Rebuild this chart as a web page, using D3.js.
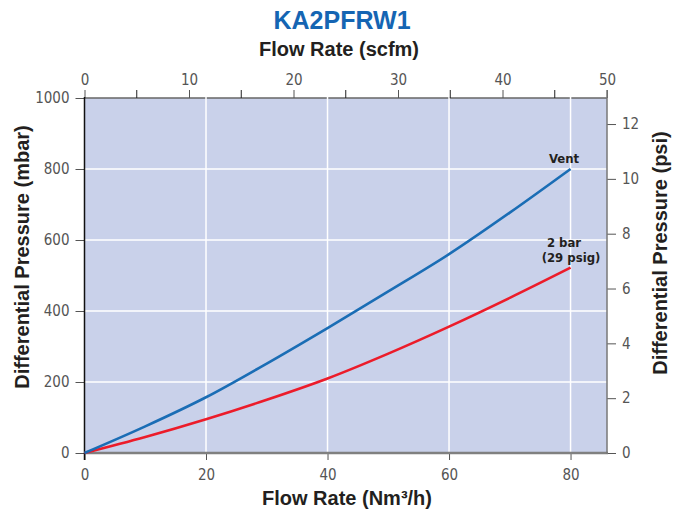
<!DOCTYPE html>
<html>
<head>
<meta charset="utf-8">
<script src="https://cdn.jsdelivr.net/npm/d3@7"></script>
<style>
  body { margin: 0; background: #fff; }
  svg { display: block; }
  .tick text { font-family: "DejaVu Sans Condensed", "Liberation Sans Narrow", "Liberation Sans", Arial, sans-serif; font-size: 15px; fill: #555; }
  .tick line { stroke: #555; }
  .domain { display: none; }
</style>
</head>
<body>
<svg></svg>
<script>
const flowNm3h = [0, 10, 20, 30, 40, 50, 60, 70, 80];
const ventMbar = [0, 75, 157, 252, 352, 455, 560, 677, 800];
const twoBarMbar = [0, 45, 95, 150, 210, 280, 356, 437, 522];

const bottomTicks = [0, 20, 40, 60, 80];
const topTicks = [0, 10, 20, 30, 40, 50];
const topMinorTicks = [5, 15, 25, 35, 45];
const leftTicks = [0, 200, 400, 600, 800, 1000];
const rightTicks = [0, 2, 4, 6, 8, 10, 12];

const width = 684, height = 515;
const plot = { left: 84.5, right: 607, top: 98, bottom: 453 };

const svg = d3.select("svg")
  .attr("width", width)
  .attr("height", height);

const x = d3.scaleLinear().domain([0, 86]).range([plot.left, plot.right]);
const xTop = d3.scaleLinear().domain([0, 50]).range([plot.left, plot.right]);
const y = d3.scaleLinear().domain([0, 1000]).range([plot.bottom, plot.top]);
const yRight = d3.scaleLinear().domain([0, 12.95]).range([plot.bottom, plot.top]);

// background
svg.append("rect")
  .attr("x", plot.left)
  .attr("y", plot.top)
  .attr("width", plot.right - plot.left)
  .attr("height", plot.bottom - plot.top)
  .attr("fill", "#c9d1ea");

// top axis line (drawn before grid so the grid cuts it)
svg.append("line")
  .attr("x1", plot.left).attr("x2", plot.right)
  .attr("y1", plot.top).attr("y2", plot.top)
  .attr("stroke", "#666").attr("stroke-width", 1.5);

// grid
svg.append("g").selectAll("line")
  .data(bottomTicks.slice(1))
  .enter().append("line")
  .attr("x1", d => x(d)).attr("x2", d => x(d))
  .attr("y1", plot.top - 1).attr("y2", plot.bottom)
  .attr("stroke", "#fff").attr("stroke-width", 1.5);

svg.append("g").selectAll("line")
  .data(leftTicks.slice(1, -1))
  .enter().append("line")
  .attr("x1", plot.left).attr("x2", plot.right)
  .attr("y1", d => y(d)).attr("y2", d => y(d))
  .attr("stroke", "#fff").attr("stroke-width", 1.5);

// axes
svg.append("g")
  .attr("transform", `translate(0,${plot.bottom})`)
  .call(d3.axisBottom(x).tickValues(bottomTicks).tickSize(7).tickSizeOuter(0).tickPadding(9))
  .selectAll(".tick line").attr("stroke", "#222");

const topAxis = svg.append("g")
  .attr("transform", `translate(0,${plot.top})`)
  .call(d3.axisTop(xTop).tickValues(topTicks).tickSize(8).tickSizeOuter(0).tickPadding(5));
topAxis.selectAll(".tick line").attr("stroke", "#222");

svg.append("g").selectAll("line")
  .data(topMinorTicks)
  .enter().append("line")
  .attr("x1", d => xTop(d)).attr("x2", d => xTop(d))
  .attr("y1", plot.top).attr("y2", plot.top - 8)
  .attr("stroke", "#222");

svg.append("g")
  .attr("transform", `translate(${plot.left},0)`)
  .call(d3.axisLeft(y).tickValues(leftTicks).tickFormat(d3.format("d")).tickSize(9).tickSizeOuter(0).tickPadding(6));

svg.append("g")
  .attr("transform", `translate(${plot.right},0)`)
  .call(d3.axisRight(yRight).tickValues(rightTicks).tickSize(9).tickSizeOuter(0).tickPadding(6));

// axis lines
svg.append("line")
  .attr("x1", plot.left).attr("x2", plot.right + 1)
  .attr("y1", plot.bottom).attr("y2", plot.bottom)
  .attr("stroke", "#808080").attr("stroke-width", 2.5);
svg.append("line")
  .attr("x1", plot.left).attr("x2", plot.left)
  .attr("y1", plot.top - 1).attr("y2", plot.bottom + 7)
  .attr("stroke", "#111").attr("stroke-width", 1.5);
svg.append("line")
  .attr("x1", plot.right).attr("x2", plot.right)
  .attr("y1", plot.top - 8).attr("y2", plot.bottom + 1)
  .attr("stroke", "#777").attr("stroke-width", 1.5);

// curves
const line = d3.line()
  .x((d, i) => x(flowNm3h[i]))
  .y(d => y(d))
  .curve(d3.curveMonotoneX);

svg.append("path")
  .datum(twoBarMbar)
  .attr("fill", "none")
  .attr("stroke", "#ec1c2a")
  .attr("stroke-width", 2.6)
  .attr("d", line);

svg.append("path")
  .datum(ventMbar)
  .attr("fill", "none")
  .attr("stroke", "#1a6db5")
  .attr("stroke-width", 2.6)
  .attr("d", line);

// curve labels
const lab = svg.append("g")
  .attr("font-family", "'DejaVu Sans Condensed', 'Liberation Sans Narrow', 'Liberation Sans', Arial, sans-serif")
  .attr("font-weight", "bold")
  .attr("font-size", 13)
  .attr("fill", "#231f20")
  .attr("text-anchor", "middle");
lab.append("text").attr("x", 564).attr("y", 163).text("Vent");
lab.append("text").attr("x", 564).attr("y", 247).text("2 bar");
lab.append("text").attr("x", 571).attr("y", 262).text("(29 psig)");

// titles
const titleFont = "'Liberation Sans', Arial, sans-serif";
svg.append("text")
  .attr("x", 342).attr("y", 29)
  .attr("text-anchor", "middle")
  .attr("font-family", titleFont)
  .attr("font-weight", "bold")
  .attr("font-size", 25)
  .attr("fill", "#1565b3")
  .text("KA2PFRW1");

svg.append("text")
  .attr("x", 339).attr("y", 56)
  .attr("text-anchor", "middle")
  .attr("font-family", titleFont)
  .attr("font-weight", "bold")
  .attr("font-size", 20)
  .attr("fill", "#231f20")
  .text("Flow Rate (scfm)");

svg.append("text")
  .attr("x", 347).attr("y", 505)
  .attr("text-anchor", "middle")
  .attr("font-family", titleFont)
  .attr("font-weight", "bold")
  .attr("font-size", 20)
  .attr("fill", "#231f20")
  .text("Flow Rate (Nm³/h)");

svg.append("text")
  .attr("transform", "translate(29,257) rotate(-90)")
  .attr("text-anchor", "middle")
  .attr("font-family", titleFont)
  .attr("font-weight", "bold")
  .attr("font-size", 20)
  .attr("fill", "#231f20")
  .text("Differential Pressure (mbar)");

svg.append("text")
  .attr("transform", "translate(667,253) rotate(-90)")
  .attr("text-anchor", "middle")
  .attr("font-family", titleFont)
  .attr("font-weight", "bold")
  .attr("font-size", 20)
  .attr("fill", "#231f20")
  .text("Differential Pressure (psi)");
</script>
</body>
</html>
